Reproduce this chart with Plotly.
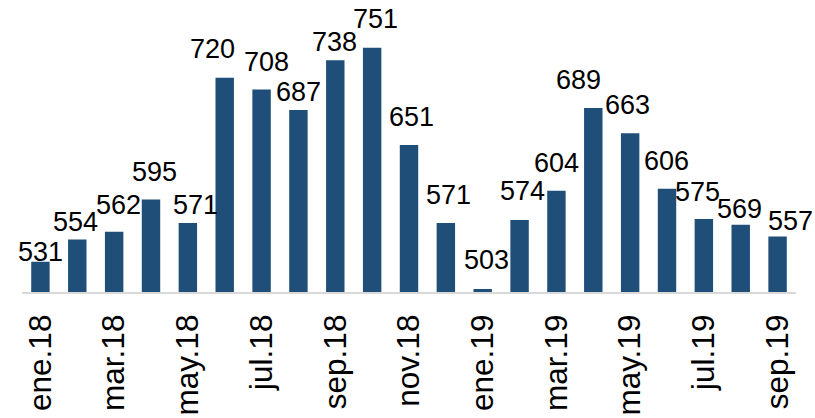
import plotly.graph_objects as go

months = ["ene.18","feb.18","mar.18","abr.18","may.18","jun.18","jul.18","ago.18","sep.18","oct.18",
          "nov.18","dic.18","ene.19","feb.19","mar.19","abr.19","may.19","jun.19","jul.19","ago.19","sep.19"]
values = [531, 554, 562, 595, 571, 720, 708, 687, 738, 751, 651, 571, 503, 574, 604, 689, 663, 606, 575, 569, 557]
tick_labels = months[::2]

# label placement nudges (pixels), as in the original's collision-avoided labels
label_dx = [0, -1.5, 4, 3.5, 8, -12, 5, 0, -1, 3, 2, 2.5, 3.5, 3, 0, -15, -3, -1, -6, -1.5, 12.5]
label_gap = [0, 7, 17, 18, 8, 19, 18, 8, 8, 19, 18, 18, 19, 19, 18, 18, 18, 18, 17, 6, 6]

FONT = "Liberation Sans, Arial"

fig = go.Figure(go.Bar(
    x=months, y=values,
    marker=dict(color="#1F4E79", line=dict(width=0)),
    hoverinfo="x+y",
))

for m, v, dx, g in zip(months, values, label_dx, label_gap):
    fig.add_annotation(
        x=m, y=v, text=str(v), showarrow=False,
        xanchor="center", yanchor="bottom",
        xshift=dx, yshift=g - 7,
        font=dict(family=FONT, size=27, color="black"),
    )

fig.update_layout(
    width=815, height=418,
    margin=dict(l=22, r=19, t=0, b=126, autoexpand=False),
    paper_bgcolor="white", plot_bgcolor="white",
    bargap=0.5, showlegend=False,
)
fig.update_xaxes(
    range=[-0.5, len(months) - 0.5],
    tickmode="array", tickvals=tick_labels, ticktext=tick_labels,
    tickangle=-90, tickfont=dict(family=FONT, size=31.5, color="black"),
    ticklabelstandoff=8,
    showline=True, linecolor="#D9D9D9", linewidth=2, ticks="", showgrid=False,
    automargin=False,
)
fig.update_yaxes(range=[500, 800], visible=False, showgrid=False, automargin=False)
fig.write_html("out.html", post_script="document.body.style.margin='0px';",
               config={"displayModeBar": False})
